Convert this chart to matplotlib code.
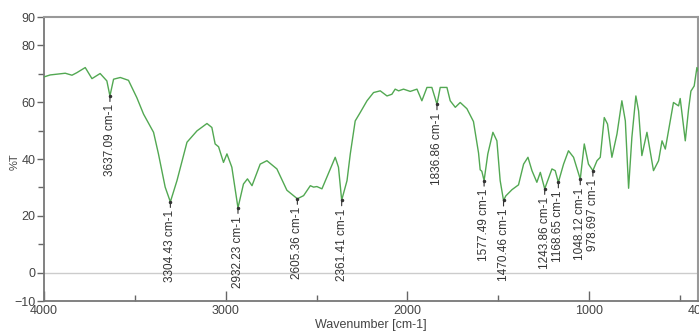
import numpy as np
import matplotlib
matplotlib.use('Agg')
import matplotlib.pyplot as plt
from matplotlib.ticker import FixedLocator

plt.rcParams['font.family'] = ['Liberation Sans Narrow', 'Liberation Sans', 'DejaVu Sans']

# spectrum: wavenumber (cm-1) and %T
wavenumber = [4000, 3966, 3883, 3846, 3819, 3773, 3736, 3691, 3654, 3637.09,
              3617, 3580, 3535, 3489, 3452, 3397, 3370, 3333, 3304.43, 3268,
              3213, 3158, 3103, 3076, 3058, 3039, 3012, 2993, 2966, 2932.23,
              2902, 2880, 2855, 2810, 2773, 2718, 2663, 2605.36, 2571, 2534,
              2516, 2498, 2470, 2443, 2397, 2379, 2361.41, 2332, 2314, 2287,
              2259, 2222, 2186, 2149, 2112, 2085, 2067, 2048, 2021, 1984,
              1947, 1920, 1892, 1865, 1836.86, 1819, 1782, 1764, 1736, 1709,
              1672, 1636, 1608, 1599, 1590, 1577.49, 1557, 1529, 1507, 1489,
              1470.46, 1458, 1424, 1388, 1360, 1336, 1314, 1287, 1268, 1243.86,
              1204, 1186, 1168.65, 1140, 1113, 1085, 1048.12, 1026, 1003, 978.697,
              956, 938, 916, 898, 874, 846, 819, 800, 782, 764,
              742, 727, 709, 681, 645, 617, 598, 580, 535, 507,
              498, 470, 452, 439, 421, 406, 400]
transmittance = [68.9, 69.6, 70.2, 69.5, 70.4, 72.2, 68.3, 70.1, 67.5, 62.2,
                 68.1, 68.7, 67.7, 61.6, 55.8, 49.4, 41.8, 30.1, 24.9, 32.4,
                 45.9, 49.9, 52.5, 51.1, 45.3, 44.3, 38.8, 41.8, 37.1, 22.8,
                 31.2, 33.0, 30.6, 38.2, 39.4, 36.5, 29.0, 26.0, 27.1, 30.6,
                 30.1, 30.3, 29.5, 33.6, 40.6, 37.1, 25.5, 32.4, 41.8, 53.4,
                 56.4, 60.5, 63.4, 64.0, 62.2, 62.8, 64.6, 64.0, 64.6, 63.8,
                 64.6, 60.5, 65.2, 65.2, 59.3, 65.2, 65.2, 60.5, 58.2, 59.9,
                 57.7, 53.2, 42.1, 36.2, 35.7, 32.4, 41.8, 49.4, 46.4, 32.4,
                 25.4, 27.0, 29.2, 30.9, 38.2, 40.6, 35.9, 31.8, 35.3, 29.5,
                 36.5, 35.9, 31.8, 38.2, 42.9, 40.6, 32.9, 45.3, 38.2, 35.9,
                 39.4, 40.6, 54.6, 52.3, 40.6, 48.8, 60.5, 53.4, 29.7, 47.6,
                 62.2, 56.9, 41.2, 49.4, 35.9, 39.4, 46.4, 43.5, 59.9, 58.7,
                 61.3, 46.4, 57.5, 63.9, 65.7, 72.2, 71.0]

peaks = [3637.09, 3304.43, 2932.23, 2605.36, 2361.41, 1836.86,
         1577.49, 1470.46, 1243.86, 1168.65, 1048.12, 978.697]
peak_labels = ['3637.09 cm-1', '3304.43 cm-1', '2932.23 cm-1', '2605.36 cm-1',
               '2361.41 cm-1', '1836.86 cm-1', '1577.49 cm-1', '1470.46 cm-1',
               '1243.86 cm-1', '1168.65 cm-1', '1048.12 cm-1', '978.697 cm-1']

x_ticks = [4000, 3000, 2000, 1000, 400]
y_ticks = [-10, 0, 20, 40, 60, 80, 90]

fig = plt.figure(figsize=(6.99, 3.34), dpi=100)
ax = fig.add_axes([44 / 699, 1 - 301 / 334, 654 / 699, 284 / 334])

ax.axhline(0, color='#cccccc', lw=1.0, zorder=1)
ax.plot(wavenumber, transmittance, color='#52a852', lw=1.0, zorder=3,
        solid_joinstyle='round')

# peak markers with rotated labels under each dip
wn_sorted = np.array(wavenumber)[::-1]
t_sorted = np.array(transmittance)[::-1]
for p, lab in zip(peaks, peak_labels):
    t = np.interp(p, wn_sorted, t_sorted)
    ax.plot([p], [t], marker='.', color='#333333', ms=3, zorder=4)
    ax.annotate(lab, xy=(p, t), xytext=(0, -6), textcoords='offset points',
                rotation=90, ha='center', va='top', fontsize=8.5, color='#333333',
                arrowprops=dict(arrowstyle='-', color='#333333', lw=0.8,
                                shrinkA=0, shrinkB=0))

ax.set_xlim(4000, 400)
ax.set_ylim(-10, 90)

ax.xaxis.set_major_locator(FixedLocator(x_ticks))
ax.xaxis.set_minor_locator(FixedLocator([3500, 2500, 1500, 500]))
ax.yaxis.set_major_locator(FixedLocator(y_ticks))
ax.yaxis.set_minor_locator(FixedLocator([10, 30, 50, 70]))

ax.tick_params(axis='x', which='major', direction='in', length=7, width=1,
               color='#666666', labelsize=9, pad=3, labelcolor='#444444')
ax.tick_params(axis='x', which='minor', direction='in', length=4, width=1, color='#666666')
ax.tick_params(axis='y', which='major', direction='out', length=5, width=1,
               color='#666666', labelsize=9, pad=1, labelcolor='#444444')
ax.tick_params(axis='y', which='minor', direction='out', length=4, width=1, color='#666666')

for side in ['left', 'bottom']:
    ax.spines[side].set_color('#777777')
    ax.spines[side].set_linewidth(1.3)
for side in ['top', 'right']:
    ax.spines[side].set_color('#999999')
    ax.spines[side].set_linewidth(1.5)

ax.set_xlabel('Wavenumber [cm-1]', fontsize=9, color='#444444', labelpad=1)
ax.set_ylabel('%T', fontsize=8, color='#444444')
ax.yaxis.set_label_coords(-0.037, 0.49)

fig.savefig('out.png', dpi=100)
